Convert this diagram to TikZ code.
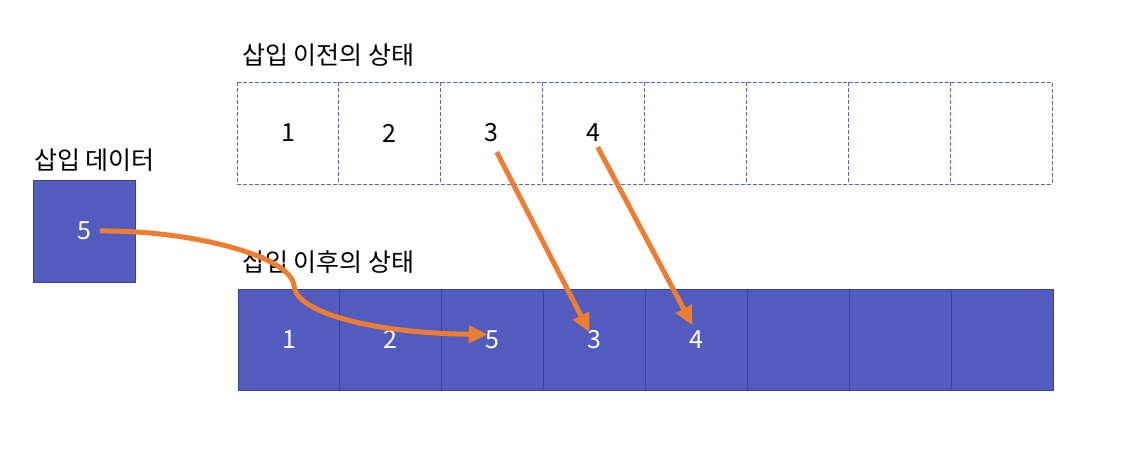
\documentclass[tikz,border=0pt]{standalone}
\usepackage{fontspec}
\setmainfont{Noto Sans CJK KR}
\usetikzlibrary{arrows.meta,calc}
\definecolor{cellblue}{HTML}{525CBE}
\definecolor{cellline}{HTML}{3B4094}
\definecolor{dashblue}{HTML}{5A64D2}
\definecolor{arroworange}{HTML}{ED7D31}
\tikzset{
  emptycell/.style={rectangle,
    minimum width=101.9pt, minimum height=102pt, inner sep=0pt, outer sep=0pt,
    font=\fontsize{25}{30}\selectfont, text=black},
  dashline/.style={draw=dashblue, line width=0.9pt, dash pattern=on 4pt off 2pt},
  fullcell/.style={rectangle, draw=cellline, fill=cellblue, line width=0.9pt,
    minimum width=101.9pt, minimum height=101pt, inner sep=0pt, outer sep=0pt,
    font=\fontsize{25}{30}\selectfont, text=white},
  title/.style={anchor=west, inner sep=0pt, font=\fontsize{25}{30}\selectfont, text=black},
  movearrow/.style={draw=arroworange, line width=5pt,
    -{Triangle[length=19pt,width=17pt]}}
}
\begin{document}
\begin{tikzpicture}[x=1pt,y=-1pt]
\useasboundingbox (0,0) rectangle (1121,459);
% titles
\node[title] (before) at (242,55) {삽입 이전의 상태};
\node[title] (insdata) at (34,160) {삽입 데이터};
\node[title] (after) at (242,262) {삽입 이후의 상태};
% top row
\foreach \i/\t in {1/1,2/2,3/3,4/4,5/{},6/{},7/{},8/{}} {
  \node[emptycell] (t\i) at ({237+101.9*(\i-0.5)},133) {\t};
}
\draw[dashline] (t1.north west) rectangle (t8.south east);
\foreach \i in {1,...,7} {
  \draw[dashline] (t\i.north east) -- (t\i.south east);
}
% bottom row
\foreach \i/\t in {1/1,2/2,3/5,4/3,5/4,6/{},7/{},8/{}} {
  \node[fullcell] (b\i) at ({238+101.9*(\i-0.5)},339.5) {\t};
}
% insert data box
\node[fullcell, minimum height=102pt] (ins) at (84,231) {5};
% arrow endpoints
\coordinate (s3) at ($(t3.center)+(5,19)$);
\coordinate (e3) at ($(b4.center)+(-5,-7)$);
\coordinate (s4) at ($(t4.center)+(4,14)$);
\coordinate (e4) at ($(b5.center)+(-4,-14)$);
\coordinate (s5) at ($(ins.center)+(16,0)$);
\coordinate (k5) at (294,286);
\coordinate (e5) at ($(b3.center)+(-5,-5)$);
% arrows
\draw[movearrow] (s3) -- (e3);
\draw[movearrow] (s4) -- (e4);
\draw[movearrow] (s5) .. controls (190,230) and (292,256) .. (k5)
  .. controls (296,312) and (370,333) .. (e5);
\end{tikzpicture}
\end{document}
